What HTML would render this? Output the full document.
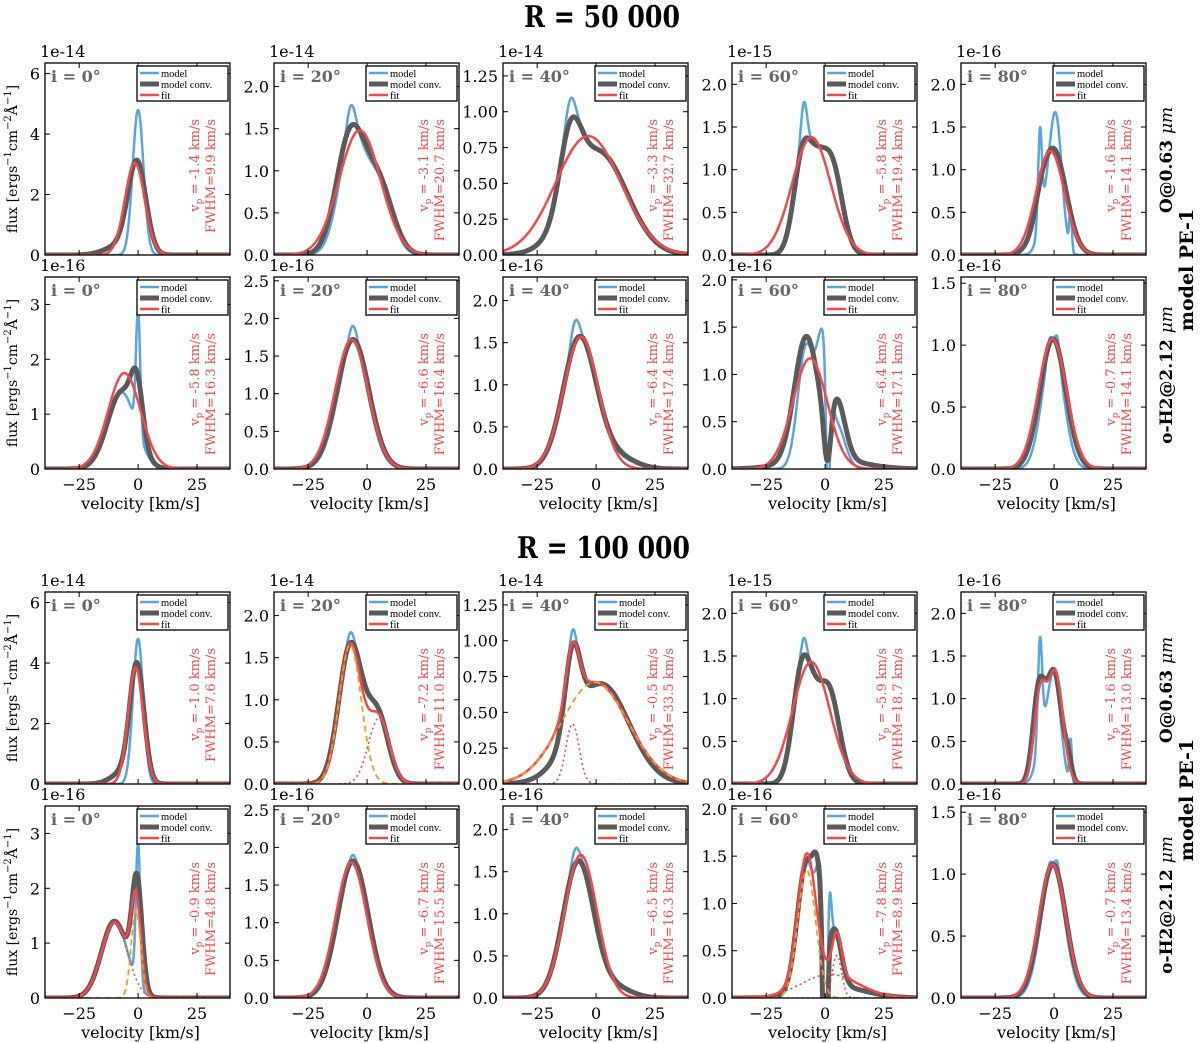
<!DOCTYPE html>
<html><head><meta charset="utf-8">
<style>
html,body{margin:0;padding:0;background:#fff;}
svg{display:block;font-family:"DejaVu Serif","Liberation Serif",serif;}
</style></head>
<body>
<svg id="fig" width="1200" height="1043" viewBox="0 0 1200 1043" xmlns="http://www.w3.org/2000/svg">
<text x="524" y="27" font-size="30" font-weight="bold" textLength="156" lengthAdjust="spacingAndGlyphs">R = 50 000</text>
<text x="517" y="558" font-size="30" font-weight="bold" textLength="173" lengthAdjust="spacingAndGlyphs">R = 100 000</text>
</svg>
<script>
// ---- data (per panel, row-major: rows 0..3, cols 0..4) ----
const inclinations = [0,20,40,60,80];
const scaleLabels = ["1e-14","1e-14","1e-14","1e-15","1e-16","1e-16","1e-16","1e-16","1e-16","1e-16"];
const yMaxes = [6.35,2.28,1.34,2.25,2.25, 3.5,2.55,2.28,2.03,1.55];
const yStepsData = [2,0.5,0.25,0.5,0.5, 1,0.5,0.5,0.5,0.5];
const vpValues = ["-1.4","-3.1","-3.3","-5.8","-1.6","-5.8","-6.6","-6.4","-6.4","-0.7",
                  "-1.0","-7.2","-0.5","-5.9","-1.6","-0.9","-6.7","-6.5","-7.8","-0.7"];
const fwhmValues = ["9.9","20.7","32.7","19.4","14.1","16.3","16.4","17.4","17.1","14.1",
                    "7.6","11.0","33.5","18.7","13.0","4.8","15.5","16.3","8.9","13.4"];
// gaussian components [amplitude, centre, sigma]
const modelComps = [
 [[4.8,0,2.3]],
 [[0.35,-7,2],[1.35,-6.5,5.5],[0.8,5,5.5]],
 [[0.15,-11,2],[0.5,-11,4.5],[0.72,1,12]],
 [[0.45,-9,1.3],[1.25,-9,4],[0.35,-3,3],[1.1,2.5,4.5]],
 [[1.1,-6,0.8],[0.6,-3,3],[1.4,1,2.5],[0.5,7,0.5]],
 [[1.4,-7,6],[2.2,0,0.9]],
 [[1.6,-6,6.5],[0.3,-6,2]],
 [[1.5,-7,7],[0.3,-9,2],[0.12,8,8]],
 [[1.3,-8,3.5],[1.2,-1,2.5],[0.45,5,3.5],[-1.5,1.2,0.8]],
 [[1.0,-0.5,4.5],[0.15,1.5,1],[0.1,-2,1]],
 [[4.8,0,2.2]],
 [[0.12,-7,1.5],[1.65,-7,5],[0.8,4.5,4.5]],
 [[0.1,-10,1.2],[0.55,-10,3.2],[0.7,2,12]],
 [[0.2,-9,1.2],[1.4,-9.5,4],[1.1,1.5,4.5],[0.2,-4,3]],
 [[1.2,-6,0.9],[0.6,-4,3],[1.1,0.5,2.5],[0.5,7,0.5]],
 [[1.4,-10,5.5],[2.6,0,0.9]],
 [[1.7,-6,6.3],[0.2,-6,2]],
 [[1.6,-7.5,6.3],[0.2,-9,2],[0.12,8,7]],
 [[1.4,-8,3.8],[0.85,-2,1.8],[0.45,2,0.7],[0.6,4,2.8],[0.12,5,12],[-2.5,0,0.7]],
 [[1.05,-0.5,5],[0.12,1.5,1],[0.08,-2,1]]
];
const convComps = [
 [[3.0,-0.5,3.8],[0.3,-8,6]],
 [[1.42,-7,6],[0.8,5,6]],
 [[0.5,-11,4.5],[0.72,1,12]],
 [[1.25,-9,4],[0.35,-3,3],[1.1,2.5,4.5]],
 [[1.25,-0.5,5.5],[0.1,-6,2]],
 [[1.4,-7,6],[1.0,-0.5,2.5]],
 [[1.72,-6,6.8]],
 [[1.55,-7,7],[0.15,8,8]],
 [[1.3,-8,5],[0.6,5,3.5],[0.12,0,14],[-0.6,1,1.5]],
 [[1.05,-0.5,5.5]],
 [[3.8,-0.5,3],[0.4,-6,5]],
 [[1.65,-7,5],[0.8,4.5,4.5]],
 [[0.55,-10,3.2],[0.7,2,12]],
 [[1.4,-9.5,4],[1.1,1.5,4.5],[0.2,-4,3]],
 [[1.05,-6.5,2.5],[1.3,0,3.2],[0.2,6,1.5]],
 [[1.4,-10,5.5],[1.95,-0.5,2.1]],
 [[1.82,-6,6.5]],
 [[1.62,-7.5,6.5],[0.12,8,7]],
 [[1.35,-8,3.8],[0.75,-3,2],[0.6,4,2.8],[0.12,5,12],[-2.5,0,0.8]],
 [[1.08,-0.5,5.5]]
];
const fitComps = [
 [[3.05,-1.4,4.2]],
 [[1.48,-3.1,8.8]],
 [[0.83,-3.3,13.9]],
 [[1.38,-5.8,8.2]],
 [[1.22,-1.6,6.0]],
 [[1.75,-5.8,6.9]],
 [[1.72,-6.6,7.0]],
 [[1.57,-6.4,7.4]],
 [[1.17,-6.4,7.3]],
 [[1.05,-0.7,6.0]],
 [[3.85,-1.0,3.2]],
 [[1.65,-7.2,4.7],[0.78,5,4.5]],
 [[0.71,-0.5,14.2],[0.42,-10,2.8]],
 [[1.43,-5.9,7.9]],
 [[1.0,-6,2.5],[1.3,0.5,3.2]],
 [[1.6,-0.9,2.04],[1.38,-10,5.5]],
 [[1.8,-6.7,6.6]],
 [[1.7,-6.5,6.9]],
 [[1.35,-7.8,3.8],[0.45,5,2],[0.25,2,12]],
 [[1.08,-0.7,5.7]]
];
// fit sub-components: dashed (main) and dotted (extra); null = not drawn
const dashedComps = [null,null,null,null,null,null,null,null,null,null,
 null,[[1.65,-7.2,4.7]],[[0.71,-0.5,14.2]],null,null,[[1.6,-0.9,2.04]],null,null,[[1.35,-7.8,3.8]],null];
const dottedComps = [null,null,null,null,null,null,null,null,null,null,
 null,[[[0.78,5,4.5]]],[[[0.42,-10,2.8]]],null,null,[[[1.38,-10,5.5]]],null,null,[[[0.45,5,2]],[[0.25,2,12]]],null];

const NS="http://www.w3.org/2000/svg";
const svg=document.getElementById('fig');
const XMIN=-39.5, XMAX=39;
const colLeft=c=>45+229*c, W=185, H=192;
const rowTop=[63,277,592,806];
function mk(tag,attrs,parent){const e=document.createElementNS(NS,tag);for(const k in attrs)e.setAttribute(k,attrs[k]);(parent||svg).appendChild(e);return e;}
function evalComps(comps,v){let s=0;for(const c of comps)s+=c[0]*Math.exp(-((v-c[1])**2)/(2*c[2]*c[2]));return Math.max(0,s);}

for(let r=0;r<4;r++){for(let c=0;c<5;c++){
 const p=r*5+c, d=(r%2)*5+c;
 const L=colLeft(c),T=rowTop[r],B=T+H,R=L+W;
 const ymax=yMaxes[d], ystep=yStepsData[d];
 const xs=v=>L+(v-XMIN)/(XMAX-XMIN)*W;
 const ys=v=>B-v/ymax*H;
 const g=mk('g',{});
 
 
 const clipId='clip'+p;
 const cp=mk('clipPath',{id:clipId},g);mk('rect',{x:L,y:T,width:W,height:H},cp);
 const plot=mk('g',{'clip-path':'url(#'+clipId+')'},g);
 function curve(comps,stroke,width,dash,name){
   let pts=[];for(let v=XMIN;v<=XMAX+0.01;v+=0.2)pts.push(xs(v).toFixed(1)+','+ys(evalComps(comps,v)).toFixed(1));
   const e=mk('polyline',{points:pts.join(' '),fill:'none',stroke:stroke,'stroke-width':width,'stroke-linejoin':'round'},plot);
   if(dash)e.setAttribute('stroke-dasharray',dash);
   
   
 }
 curve(modelComps[p],'#5aa5de',2.5,null,'model-line');
 curve(convComps[p],'#5a5a5a',5,null,'model-conv-line');
 curve(fitComps[p],'#f04a4a',2.5,null,'fit-line');
 if(dashedComps[p])curve(dashedComps[p],'#f59a1e',1.8,'6,4','fit-main-component');
 if(dottedComps[p])for(const dc of dottedComps[p])curve(dc,'#f04a4a',1.6,'2,3','fit-extra-component');
 const fr=mk('rect',{x:L,y:T,width:W,height:H,fill:'none',stroke:'#000','stroke-width':1.3},g);
 
 
 for(let v=0;v<=ymax+1e-9;v+=ystep){
   const y=ys(v);
   mk('line',{x1:L,x2:L+5,y1:y,y2:y,stroke:'#000','stroke-width':1},g);
   mk('line',{x1:R,x2:R-5,y1:y,y2:y,stroke:'#000','stroke-width':1},g);
   const dec=(c===0)?0:(ystep<0.5?2:1);
   const t=mk('text',{x:L-5,y:y+6,'text-anchor':'end','font-size':16},g);
   t.textContent=v.toFixed(dec);
   
   
 }
 for(const v of [-25,0,25]){
   const x=xs(v);
   mk('line',{x1:x,x2:x,y1:B,y2:B-5,stroke:'#000','stroke-width':1},g);
   mk('line',{x1:x,x2:x,y1:T,y2:T+5,stroke:'#000','stroke-width':1},g);
   if(r%2===1){const t=mk('text',{x:x,y:B+21,'text-anchor':'middle','font-size':16},g);
     t.textContent=(v<0?'\u2212':'')+Math.abs(v);
     
     }
 }
 if(r%2===1){const t=mk('text',{x:L+W/2+3,y:B+40,'text-anchor':'middle','font-size':16},g);
   t.textContent='velocity [km/s]';
   
   }
 const sl=mk('text',{x:L-5,y:T-6,'font-size':16},g);sl.textContent=scaleLabels[d];
 
 
 const inc=mk('text',{x:L+6,y:T+19,'font-size':16,'font-weight':'bold',fill:'#666'},g);
 inc.textContent='i = '+inclinations[c]+'\u00b0';
 
 
 const lg=mk('g',{},g);
 
 
 const lx=R-93,ly=T+3;
 mk('rect',{x:lx,y:ly,width:91,height:35,fill:'#fff',stroke:'#000','stroke-width':1.3},lg);
 const items=[['model','#5aa5de',2.5],['model conv.','#5a5a5a',5],['fit','#f04a4a',2.5]];
 items.forEach((it,i)=>{const yy=ly+7+i*11;
   mk('line',{x1:lx+3,x2:lx+22,y1:yy,y2:yy,stroke:it[1],'stroke-width':it[2]},lg);
   const t=mk('text',{x:lx+24,y:yy+4,'font-size':10.5,'font-family':'Liberation Serif, serif'},lg);t.textContent=it[0];
   
   });
 const vx=R-31,fx=R-15,ty=T+56;
 const t1=mk('text',{x:vx,y:ty,'font-size':13,fill:'#f04a4a','text-anchor':'end',transform:'rotate(-90 '+vx+' '+ty+')'},g);
 t1.innerHTML='v<tspan font-size="9" dy="3">p</tspan><tspan dy="-3"> = '+vpValues[p]+' km/s</tspan>';
 
 
 const t2=mk('text',{x:fx,y:ty,'font-size':13,fill:'#f04a4a','text-anchor':'end',transform:'rotate(-90 '+fx+' '+ty+')'},g);
 t2.textContent='FWHM='+fwhmValues[p]+' km/s';
 
 
}}
function rotText(x,y,html,size,name,bold){
 const t=mk('text',{x:x,y:y,'font-size':size,'text-anchor':'middle',transform:'rotate(-90 '+x+' '+y+')'});
 if(bold)t.setAttribute('font-weight','bold');
 t.innerHTML=html;
 
 
}
const fluxHtml='flux [ergs<tspan font-size="10" dy="-6">\u22121</tspan><tspan dy="6">cm</tspan><tspan font-size="10" dy="-6">\u22122</tspan><tspan dy="6">\u00c5</tspan><tspan font-size="10" dy="-6">\u22121</tspan><tspan dy="6">]</tspan>';
[63,277,592,806].forEach((T,i)=>rotText(17,T+96,fluxHtml,14,'y-axis-title'));
rotText(1172,160,'O@0.63 <tspan font-weight="normal" font-style="italic">\u03bcm</tspan>',17,'line-label-o063',true);
rotText(1193,270,'model PE-1',19,'model-label',true);
rotText(1172,375,'o-H2@2.12 <tspan font-weight="normal" font-style="italic">\u03bcm</tspan>',17,'line-label-h2',true);
rotText(1172,690,'O@0.63 <tspan font-weight="normal" font-style="italic">\u03bcm</tspan>',17,'line-label-o063',true);
rotText(1193,800,'model PE-1',19,'model-label',true);
rotText(1172,905,'o-H2@2.12 <tspan font-weight="normal" font-style="italic">\u03bcm</tspan>',17,'line-label-h2',true);
</script>
</body></html>
